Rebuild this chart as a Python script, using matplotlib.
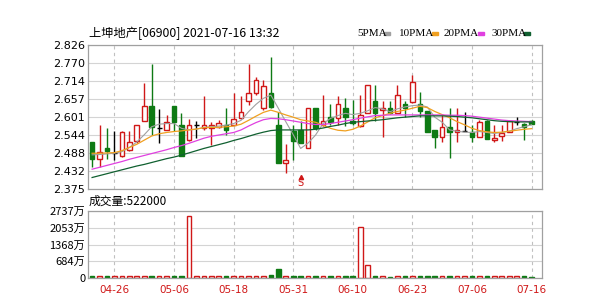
import matplotlib
matplotlib.use('Agg')
import matplotlib.pyplot as plt

# trading days 2021-04-21 .. 2021-07-16
dates = ['04-21', '04-22', '04-23', '04-26', '04-27', '04-28', '04-29', '04-30', '05-03', '05-04',
         '05-05', '05-06', '05-07', '05-10', '05-11', '05-12', '05-13', '05-14', '05-17', '05-18',
         '05-20', '05-21', '05-24', '05-25', '05-26', '05-27', '05-28', '05-31', '06-01', '06-02',
         '06-03', '06-04', '06-07', '06-08', '06-09', '06-10', '06-11', '06-15', '06-16', '06-17',
         '06-18', '06-21', '06-22', '06-23', '06-24', '06-25', '06-28', '06-29', '06-30', '07-02',
         '07-05', '07-06', '07-07', '07-08', '07-09', '07-12', '07-13', '07-14', '07-15', '07-16']

opens = [2.523, 2.469, 2.504, 2.488, 2.478, 2.497, 2.525, 2.588, 2.635, 2.567,
         2.560, 2.635, 2.575, 2.528, 2.575, 2.565, 2.567, 2.570, 2.575, 2.577,
         2.596, 2.651, 2.675, 2.628, 2.675, 2.575, 2.455, 2.557, 2.560, 2.502,
         2.630, 2.575, 2.599, 2.598, 2.628, 2.588, 2.572, 2.612, 2.651, 2.622,
         2.630, 2.612, 2.640, 2.649, 2.640, 2.619, 2.560, 2.539, 2.570, 2.552,
         2.557, 2.555, 2.539, 2.588, 2.528, 2.542, 2.552, 2.584, 2.578, 2.588]
closes = [2.469, 2.492, 2.494, 2.488, 2.555, 2.523, 2.575, 2.635, 2.570, 2.567,
          2.584, 2.584, 2.478, 2.575, 2.575, 2.575, 2.575, 2.583, 2.560, 2.594,
          2.617, 2.675, 2.716, 2.698, 2.633, 2.455, 2.466, 2.525, 2.518, 2.630,
          2.565, 2.588, 2.584, 2.640, 2.602, 2.581, 2.607, 2.701, 2.612, 2.630,
          2.612, 2.669, 2.628, 2.709, 2.619, 2.552, 2.539, 2.570, 2.552, 2.560,
          2.557, 2.539, 2.586, 2.532, 2.536, 2.551, 2.588, 2.584, 2.570, 2.580]
highs = [2.523, 2.575, 2.565, 2.557, 2.557, 2.557, 2.575, 2.706, 2.766, 2.624,
         2.607, 2.635, 2.612, 2.594, 2.588, 2.666, 2.584, 2.590, 2.628, 2.675,
         2.666, 2.766, 2.727, 2.716, 2.789, 2.617, 2.515, 2.575, 2.588, 2.630,
         2.630, 2.669, 2.640, 2.666, 2.661, 2.654, 2.669, 2.701, 2.701, 2.651,
         2.651, 2.701, 2.651, 2.732, 2.680, 2.619, 2.560, 2.607, 2.628, 2.628,
         2.617, 2.575, 2.591, 2.591, 2.575, 2.575, 2.591, 2.602, 2.581, 2.591]
lows = [2.445, 2.445, 2.469, 2.466, 2.476, 2.494, 2.520, 2.588, 2.544, 2.518,
        2.560, 2.557, 2.478, 2.524, 2.534, 2.560, 2.513, 2.565, 2.544, 2.575,
        2.594, 2.638, 2.670, 2.622, 2.628, 2.455, 2.426, 2.466, 2.518, 2.502,
        2.560, 2.572, 2.575, 2.575, 2.572, 2.576, 2.568, 2.612, 2.588, 2.539,
        2.610, 2.612, 2.601, 2.644, 2.601, 2.552, 2.502, 2.521, 2.471, 2.521,
        2.557, 2.521, 2.539, 2.532, 2.521, 2.524, 2.552, 2.575, 2.528, 2.580]

# volume in 万股
vols = [75, 70, 75, 70, 75, 70, 65, 70, 75, 70,
        65, 70, 65, 2551, 75, 70, 75, 70, 75, 70,
        75, 70, 75, 70, 110, 377, 65, 75, 70, 75,
        70, 65, 75, 70, 65, 70, 2065, 526, 70, 65,
        60, 75, 70, 65, 75, 70, 75, 70, 75, 75,
        70, 75, 70, 75, 70, 75, 70, 65, 70, 52.2]

ma5 = [2.482, 2.483, 2.485, 2.487, 2.492, 2.505, 2.522, 2.545, 2.570, 2.578,
       2.580, 2.580, 2.565, 2.560, 2.562, 2.568, 2.570, 2.572, 2.575, 2.580,
       2.590, 2.617, 2.640, 2.659, 2.669, 2.628, 2.586, 2.545, 2.502, 2.519,
       2.544, 2.580, 2.596, 2.605, 2.612, 2.608, 2.612, 2.620, 2.630, 2.626,
       2.617, 2.626, 2.632, 2.636, 2.638, 2.632, 2.600, 2.584, 2.560, 2.556,
       2.553, 2.552, 2.555, 2.552, 2.549, 2.552, 2.556, 2.564, 2.570, 2.576]
ma10 = [2.487, 2.487, 2.488, 2.489, 2.495, 2.505, 2.515, 2.528, 2.541, 2.548,
        2.552, 2.555, 2.557, 2.560, 2.563, 2.567, 2.568, 2.568, 2.570, 2.572,
        2.578, 2.590, 2.603, 2.615, 2.622, 2.615, 2.607, 2.600, 2.592, 2.588,
        2.584, 2.575, 2.565, 2.559, 2.557, 2.562, 2.572, 2.585, 2.598, 2.605,
        2.612, 2.618, 2.622, 2.628, 2.634, 2.630, 2.618, 2.608, 2.598, 2.586,
        2.576, 2.565, 2.558, 2.554, 2.552, 2.553, 2.556, 2.559, 2.562, 2.564]
ma20 = [2.437, 2.443, 2.449, 2.455, 2.461, 2.468, 2.474, 2.480, 2.486, 2.492,
        2.498, 2.505, 2.511, 2.518, 2.526, 2.534, 2.540, 2.544, 2.548, 2.552,
        2.560, 2.572, 2.583, 2.592, 2.596, 2.595, 2.592, 2.588, 2.584, 2.580,
        2.577, 2.577, 2.580, 2.584, 2.588, 2.592, 2.597, 2.601, 2.605, 2.606,
        2.607, 2.607, 2.607, 2.607, 2.607, 2.607, 2.607, 2.607, 2.606, 2.606,
        2.605, 2.603, 2.600, 2.597, 2.594, 2.591, 2.589, 2.588, 2.587, 2.586]
ma30 = [2.411, 2.417, 2.423, 2.429, 2.435, 2.441, 2.447, 2.452, 2.458, 2.464,
        2.470, 2.475, 2.481, 2.488, 2.495, 2.502, 2.508, 2.514, 2.520, 2.527,
        2.533, 2.540, 2.547, 2.553, 2.558, 2.560, 2.560, 2.560, 2.560, 2.560,
        2.562, 2.566, 2.571, 2.575, 2.580, 2.584, 2.586, 2.588, 2.590, 2.592,
        2.595, 2.598, 2.600, 2.602, 2.604, 2.604, 2.604, 2.604, 2.603, 2.602,
        2.600, 2.598, 2.595, 2.592, 2.589, 2.587, 2.586, 2.585, 2.585, 2.585]

price_ticks = ['2.375', '2.432', '2.488', '2.544', '2.601', '2.657', '2.714', '2.770', '2.826']
vol_ticks = [0, 684, 1368, 2053, 2737]
vol_tick_labels = ['0', '684万', '1368万', '2053万', '2737万']
tick_idx = [3, 11, 19, 27, 35, 43, 51, 59]

RED = '#d01818'
GREEN = '#0e7a14'
cjk = ['Noto Sans CJK SC', 'DejaVu Sans']

fig = plt.figure(figsize=(5.95, 2.99), dpi=100)
ax = fig.add_axes([88 / 595, 1 - 189 / 299, 454 / 595, 144 / 299])
axv = fig.add_axes([88 / 595, 1 - 278 / 299, 454 / 595, 67 / 299])

xs = list(range(len(dates)))

def style(a):
    for s in a.spines.values():
        s.set_color('#a0a0a0')
        s.set_linewidth(0.9)
    a.set_xlim(-0.55, 60.4)
    a.set_xticks(tick_idx)
    a.grid(axis='y', color='#d4d4d4', lw=0.8)
    a.grid(axis='x', color='#c0c0c0', lw=0.8, ls=(0, (3, 3)))
    a.set_axisbelow(True)
    a.tick_params(length=0, labelsize=8, pad=2)

# price panel
style(ax)
vals = [float(t) for t in price_ticks]
ax.set_ylim(vals[0], vals[-1])
ax.set_yticks(vals)
ax.set_yticklabels(price_ticks)
ax.set_xticklabels([])

for i in xs:
    o, c, h, l = opens[i], closes[i], highs[i], lows[i]
    if c > o:
        col, face = RED, 'white'
    elif c < o:
        col, face = GREEN, GREEN
    else:
        col, face = 'black', 'black'
    ax.vlines(i, l, h, color=col, lw=1, zorder=2)
    if c == o:
        ax.hlines(o, i - 0.33, i + 0.33, color=col, lw=1, zorder=3)
    else:
        ax.bar(i, abs(c - o), bottom=min(o, c), width=0.62, facecolor=face,
               edgecolor=col, lw=1, zorder=3)

ax.plot(xs, ma5, color='#a0a0a0', lw=0.8, zorder=4)
ax.plot(xs, ma10, color='#f0a020', lw=0.9, zorder=4)
ax.plot(xs, ma20, color='#e040e0', lw=0.9, zorder=4)
ax.plot(xs, ma30, color='#106030', lw=0.9, zorder=4)

# "S" marker
ax.plot(28, 2.413, marker='^', ms=3, color=RED, zorder=5)
ax.text(28, 2.393, 'S', color=RED, fontsize=7, ha='center', va='center', zorder=5)

# volume panel
style(axv)
axv.set_ylim(0, vol_ticks[-1])
axv.set_yticks(vol_ticks)
axv.set_yticklabels(vol_tick_labels, family=cjk)
axv.set_xticklabels([dates[i] for i in tick_idx], color=RED, fontsize=7.5)
axv.tick_params(axis='x', pad=5)
for i in xs:
    if closes[i] < opens[i]:
        axv.bar(i, vols[i], width=0.62, facecolor=GREEN, edgecolor=GREEN, lw=1)
    else:
        axv.bar(i, vols[i], width=0.62, facecolor='white', edgecolor=RED, lw=1)

# texts
fig.text(89 / 595, 1 - 33 / 299, '上坤地产[06900] 2021-07-16 13:32', family=cjk,
         fontsize=8.8, va='center', ha='left')
fig.text(89 / 595, 1 - 201 / 299, '成交量:522000', family=cjk,
         fontsize=8.5, va='center', ha='left')

legend_items = [('5PMA', 357, 384, '#a0a0a0'), ('10PMA', 399, 432, '#f0a020'),
                ('20PMA', 444, 478, '#e040e0'), ('30PMA', 491, 524, '#106030')]
for name, tx, mx, mc in legend_items:
    fig.text(tx / 595, 1 - 33 / 299, name, family='Liberation Serif', fontsize=8,
             va='center', ha='left')
    fig.patches.append(plt.Rectangle((mx / 595, 1 - 35 / 299), 6 / 595, 3 / 299,
                                     transform=fig.transFigure, color=mc))

fig.savefig('out.png', dpi=100)
